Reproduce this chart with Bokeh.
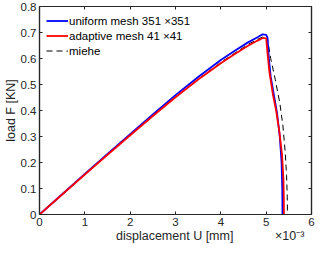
from bokeh.plotting import figure
from bokeh.models import (Range1d, FixedTicker, LinearAxis, Legend, LegendItem,
                          CustomJSTickFormatter)
from bokeh.embed import file_html
from bokeh.resources import INLINE

# displacement in units of 1e-3 mm, load in kN
uniform_u = [0, 0.5, 1.0, 1.5, 2.0, 2.5, 3.0, 3.5, 4.0, 4.3, 4.6, 4.8, 4.92, 5.0, 5.03,
             5.06, 5.1, 5.17, 5.24, 5.3, 5.34, 5.355, 5.36]
uniform_f = [0, 0.078, 0.156, 0.233, 0.309, 0.385, 0.459, 0.529, 0.594, 0.629, 0.662, 0.681, 0.693, 0.691, 0.680,
             0.60, 0.53, 0.46, 0.39, 0.30, 0.20, 0.10, 0.0]

adaptive_u = [0, 0.5, 1.0, 1.5, 2.0, 2.5, 3.0, 3.5, 4.0, 4.3, 4.6, 4.8, 4.93, 5.0, 5.03,
              5.07, 5.15, 5.22, 5.29, 5.35, 5.38, 5.39, 5.392]
adaptive_f = [0, 0.077, 0.154, 0.230, 0.305, 0.379, 0.451, 0.519, 0.582, 0.616, 0.649, 0.668, 0.679, 0.677, 0.62,
              0.55, 0.46, 0.40, 0.32, 0.23, 0.14, 0.06, 0.0]

miehe_u = [0, 0.5, 1.0, 1.5, 2.0, 2.5, 3.0, 3.5, 4.0, 4.3, 4.6, 4.8, 4.95, 5.02,
           5.1, 5.2, 5.3, 5.37, 5.42, 5.45, 5.465, 5.47]
miehe_f = [0, 0.076, 0.153, 0.229, 0.304, 0.378, 0.450, 0.520, 0.585, 0.620, 0.654, 0.673, 0.685, 0.685,
           0.60, 0.52, 0.43, 0.34, 0.24, 0.15, 0.07, 0.0]

x_ticks = [0, 1, 2, 3, 4, 5, 6]
y_ticks = [0, 0.1, 0.2, 0.3, 0.4, 0.5, 0.6, 0.7, 0.8]
labels = ["uniform mesh 351 \u00d7351", "adaptive mesh 41 \u00d741", "miehe"]
x_title = "displacement U [mm]"
x_exponent = "\u00d710\u207b\u00b3"
y_title = "load F [KN]"

SCALE = 1e-3
FONT = "Liberation Sans"
AX = "#262626"
NB = "\u00a0"

p = figure(width=316, height=245, output_backend="svg", toolbar_location=None,
           x_range=Range1d(0, 6 * SCALE), y_range=Range1d(0, 0.8),
           min_border_left=34, min_border_right=5, min_border_top=6, min_border_bottom=31,
           x_axis_label=NB * 20 + x_title + NB * 12 + x_exponent,
           y_axis_label=y_title)
p.grid.visible = False
p.outline_line_color = AX
p.outline_line_width = 1.2
p.background_fill_color = "white"

xt = FixedTicker(ticks=[t * SCALE for t in x_ticks])
yt = FixedTicker(ticks=y_ticks)
p.xaxis.ticker = xt
p.yaxis.ticker = yt
p.xaxis.formatter = CustomJSTickFormatter(code="return (tick*1000).toFixed(0)")
p.yaxis.formatter = CustomJSTickFormatter(code="return tick==0 ? '0' : tick.toFixed(1)")

for ax in (p.xaxis[0], p.yaxis[0]):
    ax.axis_line_color = AX
    ax.axis_line_width = 1.2
    ax.major_tick_line_color = AX
    ax.major_tick_in = 3
    ax.major_tick_out = 0
    ax.minor_tick_line_color = None
    ax.major_label_text_font = FONT
    ax.major_label_text_font_size = "11.5px"
    ax.major_label_text_color = AX
    ax.axis_label_text_font = FONT
    ax.axis_label_text_font_size = "12.5px"
    ax.axis_label_text_font_style = "normal"
    ax.axis_label_text_color = AX
    ax.major_label_standoff = 3
    ax.axis_label_standoff = 0

for loc, tk in (("above", xt), ("right", yt)):
    ax = LinearAxis(ticker=tk, formatter=CustomJSTickFormatter(code="return ''"),
                    major_label_text_font_size="0px", major_label_standoff=0,
                    major_tick_in=3, major_tick_out=0, minor_tick_line_color=None,
                    axis_line_color=AX, axis_line_width=1.2, major_tick_line_color=AX)
    p.add_layout(ax, loc)

rm = p.line([u * SCALE for u in miehe_u], miehe_f, line_color="black", line_width=1, line_dash="6 4")
rb = p.line([u * SCALE for u in uniform_u], uniform_f, line_color="#0000ff", line_width=1.8)
rr = p.line([u * SCALE for u in adaptive_u], adaptive_f, line_color="#ff0000", line_width=1.8)

legend = Legend(items=[LegendItem(label=labels[0], renderers=[rb]),
                       LegendItem(label=labels[1], renderers=[rr]),
                       LegendItem(label=labels[2], renderers=[rm])],
                location="top_left", border_line_color="white", border_line_alpha=0.01,
                background_fill_alpha=0,
                glyph_width=22, glyph_height=15, label_height=15, label_standoff=1,
                spacing=0, padding=6, margin=0, label_text_font=FONT,
                label_text_font_size="11.5px", label_text_color="black")
p.add_layout(legend)

open("out.html", "w").write(file_html(p, INLINE))
